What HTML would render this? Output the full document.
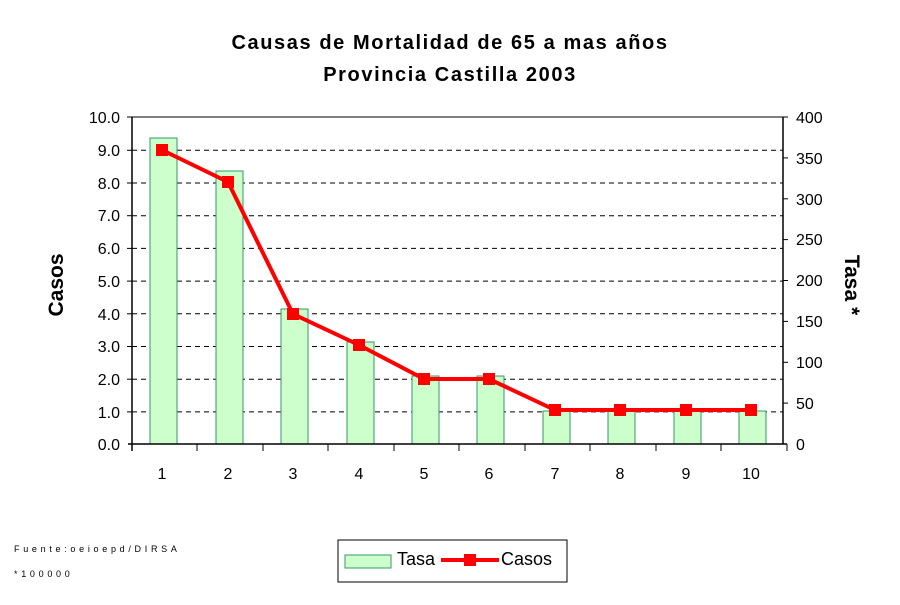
<!DOCTYPE html>
<html><head><meta charset="utf-8"><style>
body{margin:0;background:#fff;}
svg text{font-family:"Liberation Sans",Arial,sans-serif;}
</style></head><body>
<svg width="900" height="600" xmlns="http://www.w3.org/2000/svg">
<rect width="900" height="600" fill="#fff"/>
<text x="450" y="49" text-anchor="middle" font-size="20" font-weight="bold" letter-spacing="1.6">Causas de Mortalidad de 65 a mas años</text>
<text x="450" y="81" text-anchor="middle" font-size="20" font-weight="bold" letter-spacing="1.6">Provincia Castilla 2003</text>
<line x1="132" y1="117" x2="783" y2="117" stroke="#808080" stroke-width="2"/>
<g stroke="#000" stroke-dasharray="5,4" stroke-width="1">
<line x1="132" y1="150.3" x2="783" y2="150.3"/>
<line x1="132" y1="183" x2="783" y2="183"/>
<line x1="132" y1="215.7" x2="783" y2="215.7"/>
<line x1="132" y1="248.4" x2="783" y2="248.4"/>
<line x1="132" y1="281.1" x2="783" y2="281.1"/>
<line x1="132" y1="313.8" x2="783" y2="313.8"/>
<line x1="132" y1="346.5" x2="783" y2="346.5"/>
<line x1="132" y1="379.2" x2="783" y2="379.2"/>
<line x1="132" y1="411.9" x2="783" y2="411.9"/>
</g>
<g fill="#ccffcc" stroke="#339966" stroke-width="1">
<rect x="150" y="138" width="27" height="306"/>
<rect x="216" y="171" width="27" height="273"/>
<rect x="281" y="309" width="27" height="135"/>
<rect x="347" y="342" width="27" height="102"/>
<rect x="412" y="376" width="27" height="68"/>
<rect x="477" y="376" width="27" height="68"/>
<rect x="543" y="411" width="27" height="33"/>
<rect x="608" y="411" width="27" height="33"/>
<rect x="674" y="411" width="27" height="33"/>
<rect x="739" y="411" width="27" height="33"/>
</g>
<g stroke="#000" stroke-width="1.5">
<line x1="132" y1="117" x2="132" y2="451"/>
<line x1="783" y1="117" x2="783" y2="444"/>
<line x1="128" y1="444" x2="787" y2="444"/>
</g>
<g stroke="#000" stroke-width="1">
<line x1="127" y1="117" x2="132" y2="117"/><line x1="127" y1="150.3" x2="132" y2="150.3"/><line x1="127" y1="183" x2="132" y2="183"/><line x1="127" y1="215.7" x2="132" y2="215.7"/><line x1="127" y1="248.4" x2="132" y2="248.4"/><line x1="127" y1="281.1" x2="132" y2="281.1"/><line x1="127" y1="313.8" x2="132" y2="313.8"/><line x1="127" y1="346.5" x2="132" y2="346.5"/><line x1="127" y1="379.2" x2="132" y2="379.2"/><line x1="127" y1="411.9" x2="132" y2="411.9"/>
<line x1="783" y1="117" x2="788" y2="117"/><line x1="783" y1="157.9" x2="788" y2="157.9"/><line x1="783" y1="198.8" x2="788" y2="198.8"/><line x1="783" y1="239.6" x2="788" y2="239.6"/><line x1="783" y1="280.5" x2="788" y2="280.5"/><line x1="783" y1="321.4" x2="788" y2="321.4"/><line x1="783" y1="362.3" x2="788" y2="362.3"/><line x1="783" y1="403.1" x2="788" y2="403.1"/>
<line x1="197" y1="444" x2="197" y2="451"/><line x1="263" y1="444" x2="263" y2="451"/><line x1="328" y1="444" x2="328" y2="451"/><line x1="394" y1="444" x2="394" y2="451"/><line x1="459" y1="444" x2="459" y2="451"/><line x1="525" y1="444" x2="525" y2="451"/><line x1="590" y1="444" x2="590" y2="451"/><line x1="656" y1="444" x2="656" y2="451"/><line x1="721" y1="444" x2="721" y2="451"/><line x1="787" y1="444" x2="787" y2="451"/>
</g>
<polyline points="162,150 228,182 293,314 359,345 424,379 489,379 555,410 620,410 686,410 751,410" fill="none" stroke="#ff0000" stroke-width="4"/>
<g fill="#ff0000">
<rect x="156" y="144" width="12" height="12"/><rect x="222" y="176" width="12" height="12"/><rect x="287" y="308" width="12" height="12"/><rect x="353" y="339" width="12" height="12"/><rect x="418" y="373" width="12" height="12"/><rect x="483" y="373" width="12" height="12"/><rect x="549" y="404" width="12" height="12"/><rect x="614" y="404" width="12" height="12"/><rect x="680" y="404" width="12" height="12"/><rect x="745" y="404" width="12" height="12"/>
</g>
<g font-size="16" text-anchor="end">
<text x="120" y="123">10.0</text><text x="120" y="156">9.0</text><text x="120" y="189">8.0</text><text x="120" y="221">7.0</text><text x="120" y="254">6.0</text><text x="120" y="287">5.0</text><text x="120" y="320">4.0</text><text x="120" y="352">3.0</text><text x="120" y="385">2.0</text><text x="120" y="418">1.0</text><text x="120" y="450">0.0</text>
</g>
<g font-size="16" text-anchor="start">
<text x="796" y="123">400</text><text x="796" y="164">350</text><text x="796" y="205">300</text><text x="796" y="245">250</text><text x="796" y="286">200</text><text x="796" y="327">150</text><text x="796" y="368">100</text><text x="796" y="409">50</text><text x="796" y="450">0</text>
</g>
<g font-size="16" text-anchor="middle">
<text x="162" y="479">1</text><text x="228" y="479">2</text><text x="293" y="479">3</text><text x="359" y="479">4</text><text x="424" y="479">5</text><text x="489" y="479">6</text><text x="555" y="479">7</text><text x="620" y="479">8</text><text x="686" y="479">9</text><text x="751" y="479">10</text>
</g>
<text transform="translate(63,285) rotate(-90)" font-size="21" font-weight="bold" text-anchor="middle">Casos</text>
<text transform="translate(845,285) rotate(90)" font-size="21" font-weight="bold" text-anchor="middle">Tasa *</text>
<text x="14" y="552" font-size="9" letter-spacing="3.7">Fuente:oeioepd/DIRSA</text>
<text x="14" y="577" font-size="9" letter-spacing="3.7">*100000</text>
<rect x="338" y="540" width="229" height="42" fill="#fff" stroke="#000" stroke-width="1"/>
<rect x="345" y="555" width="46" height="13" fill="#ccffcc" stroke="#339966"/>
<text x="397" y="565" font-size="18">Tasa</text>
<line x1="441" y1="560" x2="499" y2="560" stroke="#ff0000" stroke-width="4"/>
<rect x="464" y="554" width="12" height="12" fill="#ff0000"/>
<text x="501" y="565" font-size="18">Casos</text>
</svg>
</body></html>
